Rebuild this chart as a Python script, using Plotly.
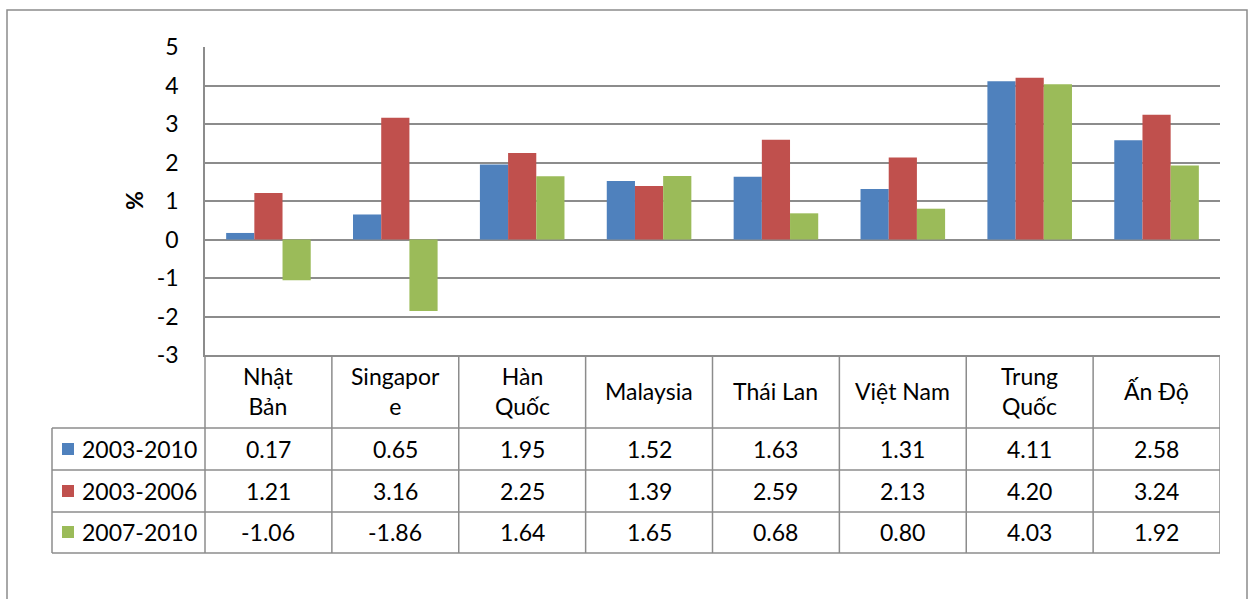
import plotly.graph_objects as go

categories = ["Nhật Bản", "Singapore", "Hàn Quốc", "Malaysia", "Thái Lan", "Việt Nam", "Trung Quốc", "Ấn Độ"]
header_labels = ["Nhật<br>Bản", "Singapor<br>e", "Hàn<br>Quốc", "Malaysia", "Thái Lan", "Việt Nam", "Trung<br>Quốc", "Ấn Độ"]
series_names = ["2003-2010", "2003-2006", "2007-2010"]
s_2003_2010 = [0.17, 0.65, 1.95, 1.52, 1.63, 1.31, 4.11, 2.58]
s_2003_2006 = [1.21, 3.16, 2.25, 1.39, 2.59, 2.13, 4.20, 3.24]
s_2007_2010 = [-1.06, -1.86, 1.64, 1.65, 0.68, 0.80, 4.03, 1.92]
y_ticks = [-3, -2, -1, 0, 1, 2, 3, 4, 5]
y_ticktext = ["-3", "-2", "-1", "0", "1", "2", "3", "4", "5"]

colors = ["#4F81BD", "#C0504D", "#9BBB59"]
series = [s_2003_2010, s_2003_2006, s_2007_2010]
FONT = "Lato"
GRID = "#8C8C8C"

W, H = 1249, 599
L, R, T, B = 205, 1220, 47, 355


def px(x):
    return (x - L) / (R - L)


def py(y):
    return (B - y) / (B - T)


fig = go.Figure()
for name, vals, col in zip(series_names, series, colors):
    fig.add_bar(x=categories, y=vals, name=name, marker_color=col, marker_line_width=0)

shapes = []
line = dict(color=GRID, width=1.5)
# outer chart border (open at the bottom edge of the picture)
shapes.append(dict(type="rect", xref="paper", yref="paper", x0=px(7), x1=px(1247), y0=py(620), y1=py(10), line=line))
# table horizontal lines
for yy in [428, 470, 512, 553]:
    shapes.append(dict(type="line", xref="paper", yref="paper", x0=px(52), x1=1, y0=py(yy), y1=py(yy), line=line))
# table left edge and axis continuation
shapes.append(dict(type="line", xref="paper", yref="paper", x0=px(52), x1=px(52), y0=py(428), y1=py(553), line=line))
shapes.append(dict(type="line", xref="paper", yref="paper", x0=0, x1=0, y0=0, y1=py(553), line=line))
# column separators at category boundaries
for k in range(len(categories)):
    shapes.append(dict(type="line", xref="x", yref="paper", x0=k + 0.5, x1=k + 0.5, y0=0, y1=py(553), line=line))

annotations = []
tfont = dict(family=FONT, size=23, color="#000000")
for cat, lab in zip(categories, header_labels):
    annotations.append(dict(xref="x", yref="paper", x=cat, y=py(391), text=lab, showarrow=False,
                            font=tfont, xanchor="center", yanchor="middle"))
row_y = [449, 491, 532]
for name, vals, col, yy in zip(series_names, series, colors, row_y):
    shapes.append(dict(type="rect", xref="paper", yref="paper", x0=px(62), x1=px(74), y0=py(yy + 6), y1=py(yy - 6),
                       fillcolor=col, line=dict(width=0)))
    annotations.append(dict(xref="paper", yref="paper", x=px(80), y=py(yy), text=name, showarrow=False,
                            font=tfont, xanchor="left", yanchor="middle"))
    for cat, v in zip(categories, vals):
        annotations.append(dict(xref="x", yref="paper", x=cat, y=py(yy), text=f"{v:.2f}", showarrow=False,
                                font=tfont, xanchor="center", yanchor="middle"))
annotations.append(dict(xref="paper", yref="paper", x=px(134), y=0.5, text="<b>%</b>", textangle=-90, showarrow=False,
                        font=dict(family=FONT, size=23, color="#000000"), xanchor="center", yanchor="middle"))

fig.update_layout(
    width=W, height=H,
    margin=dict(l=L, r=W - R, t=T, b=H - B),
    paper_bgcolor="white", plot_bgcolor="white",
    barmode="group", bargap=1.5 / 4.5, bargroupgap=0,
    showlegend=False,
    font=dict(family=FONT, size=23, color="#000000"),
    shapes=shapes, annotations=annotations,
)
fig.update_xaxes(type="category", range=[-0.5, len(categories) - 0.5], showticklabels=False, showgrid=False,
                 showline=True, linecolor=GRID, linewidth=1.5, ticks="")
fig.update_yaxes(range=[-3, 5], tickvals=y_ticks, ticktext=y_ticktext, showgrid=True, gridcolor=GRID, gridwidth=1.5,
                 zeroline=False, showline=True, linecolor=GRID, linewidth=1.5, ticks="", ticklabelstandoff=20,
                 tickfont=dict(family=FONT, size=23, color="#000000"))

fig.write_html("out.html", config={"displayModeBar": False}, post_script="document.body.style.margin='0';")
